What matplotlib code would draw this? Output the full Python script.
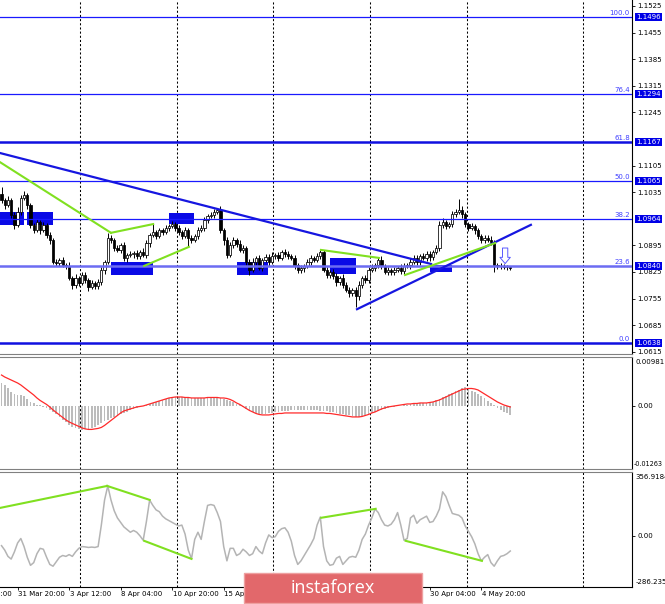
import numpy as np
import matplotlib
matplotlib.use('Agg')
import matplotlib.pyplot as plt
from matplotlib.patches import Rectangle

plt.rcParams['font.family'] = 'DejaVu Sans'

# EURUSD H4, bar 0 = first bar on screen
first_open = 1.1030
closes = [
    1.1014, 1.1001, 1.1014, 1.0975, 1.0949, 1.0983, 1.1020, 1.1028, 1.1001, 1.0949,
    1.0935, 1.0956, 1.0935, 1.0949, 1.0922, 1.0909, 1.0851, 1.0849, 1.0857, 1.0843,
    1.0841, 1.0809, 1.0791, 1.0809, 1.0796, 1.0817, 1.0804, 1.0786, 1.0796, 1.0788,
    1.0799, 1.0830, 1.0851, 1.0914, 1.0909, 1.0888, 1.0883, 1.0896, 1.0862, 1.0870,
    1.0872, 1.0875, 1.0867, 1.0878, 1.0870, 1.0901, 1.0922, 1.0930, 1.0920, 1.0935,
    1.0930, 1.0941, 1.0946, 1.0951, 1.0941, 1.0930, 1.0920, 1.0935, 1.0914, 1.0909,
    1.0920, 1.0935, 1.0941, 1.0962, 1.0972, 1.0975, 1.0983, 1.0988, 1.0935, 1.0909,
    1.0870, 1.0896, 1.0909, 1.0899, 1.0883, 1.0888, 1.0851, 1.0830, 1.0851, 1.0862,
    1.0836, 1.0857, 1.0864, 1.0851, 1.0867, 1.0870, 1.0862, 1.0878, 1.0872, 1.0867,
    1.0862, 1.0843, 1.0830, 1.0836, 1.0841, 1.0851, 1.0862, 1.0857, 1.0867, 1.0878,
    1.0830, 1.0817, 1.0825, 1.0814, 1.0799, 1.0809, 1.0791, 1.0778, 1.0770, 1.0778,
    1.0762, 1.0791, 1.0809, 1.0804, 1.0830, 1.0836, 1.0843, 1.0857, 1.0841, 1.0825,
    1.0830, 1.0825, 1.0830, 1.0836, 1.0827, 1.0841, 1.0843, 1.0851, 1.0862, 1.0851,
    1.0867, 1.0862, 1.0872, 1.0864, 1.0878, 1.0888, 1.0949, 1.0956, 1.0946, 1.0951,
    1.0977, 1.0983, 1.0988, 1.0977, 1.0951, 1.0941, 1.0946, 1.0935, 1.0920, 1.0909,
    1.0914, 1.0909, 1.0904, 1.0843, 1.0841, 1.0841, 1.0838, 1.0838, 1.0836]
# wick lengths in pips above / below the body
hi_wick = [
    19, 6, 10, 5, 8, 12, 7, 9, 5, 6,
    6, 9, 5, 8, 6, 7, 5, 8, 6, 7,
    5, 9, 6, 10, 6, 8, 7, 5, 9, 6,
    8, 7, 6, 14, 8, 6, 9, 5, 7, 6,
    8, 5, 7, 6, 9, 8, 6, 20, 5, 7,
    6, 8, 6, 9, 5, 7, 6, 8, 5, 7,
    6, 9, 7, 8, 6, 7, 9, 5, 10, 6,
    8, 9, 7, 6, 9, 8, 5, 7, 10, 6,
    8, 6, 9, 7, 10, 5, 8, 6, 7, 9,
    6, 8, 5, 7, 6, 9, 7, 6, 8, 5,
    5, 8, 6, 9, 7, 6, 10, 7, 8, 6,
    7, 9, 6, 8, 7, 10, 6, 8, 9, 5,
    7, 6, 8, 5, 9, 7, 6, 10, 8, 7,
    6, 9, 7, 8, 6, 8, 9, 12, 7, 6,
    9, 8, 29, 10, 7, 6, 8, 5, 7, 6,
    8, 7, 10, 6, 5, 7, 4, 5, 3]
lo_wick = [
    7, 9, 6, 8, 10, 6, 8, 5, 9, 7,
    7, 6, 9, 5, 8, 10, 6, 7, 9, 5,
    8, 6, 10, 7, 9, 6, 8, 10, 6, 9,
    7, 8, 10, 5, 7, 9, 6, 8, 7, 10,
    6, 9, 7, 8, 5, 7, 9, 6, 8, 6,
    7, 5, 8, 6, 9, 7, 8, 6, 22, 7,
    5, 8, 6, 9, 7, 5, 8, 6, 7, 14,
    8, 6, 9, 7, 5, 8, 9, 12, 6, 8,
    7, 9, 6, 10, 5, 7, 9, 6, 8, 7,
    6, 9, 8, 7, 10, 6, 8, 7, 6, 9,
    6, 9, 8, 7, 10, 9, 8, 6, 12, 9,
    28, 10, 8, 7, 9, 6, 8, 7, 9, 6,
    8, 7, 9, 6, 8, 7, 6, 9, 5, 8,
    7, 6, 8, 9, 7, 6, 8, 7, 9, 6,
    8, 7, 6, 9, 7, 8, 6, 9, 7, 8,
    7, 6, 8, 18, 7, 9, 6, 8, 5]

price_range = (1.06091, 1.15407)
# 1.1175 and 1.0965 sit under the level boxes and are not visible
price_ticks = [1.1525, 1.1455, 1.1385, 1.1315, 1.1245, 1.1105,
               1.1035, 1.0895, 1.0825, 1.0755, 1.0685, 1.0615]
fib_levels = [1.1496, 1.1294, 1.1167, 1.1065, 1.0964, 1.0840, 1.0638]
fib_names = ['100.0', '76.4', '61.8', '50.0', '38.2', '23.6', '0.0']

# lines as (bar0, value0, bar1, value1)
trend_blue = [(-0.47, 1.1138, 133.4, 1.0846), (110.4, 1.0727, 164.4, 1.0949)]
trend_green = [(-0.47, 1.1114, 34.0, 1.0928), (34.0, 1.0928, 47.1, 1.0951),
               (44.3, 1.0841, 58.2, 1.0891), (99.2, 1.0883, 117.2, 1.0862),
               (125.3, 1.0817, 153.3, 1.0901)]
# zones as (bar0, bar1, price_low, price_high)
zones = [(-0.47, 7.0, 1.0949, 1.0983), (7.9, 16.0, 1.0949, 1.0983),
         (34.0, 47.1, 1.0817, 1.0851), (52.0, 59.8, 1.0951, 1.0980),
         (73.1, 82.8, 1.0817, 1.0851), (102.0, 110.1, 1.0820, 1.0862),
         (133.1, 139.9, 1.0825, 1.0843)]
arrow_bar, arrow_top, arrow_tip = 156.4, 1.0888, 1.0847

# MACD, in units of 0.0001
macd_hist = [
    46, 42, 36, 28, 24, 22, 21, 19, 14, 8,
    5, 2, 1, -2, -5, -9, -13, -17, -23, -28,
    -33, -38, -42, -45, -47, -48, -47, -46, -44, -42,
    -39, -35, -31, -28, -25, -22, -20, -17, -14, -12,
    -9, -7, -5, -3, -1, 2, 4, 6, 8, 10,
    12, 14, 16, 17, 18, 18, 18, 17, 16, 16,
    15, 15, 15, 16, 16, 17, 17, 17, 15, 13,
    11, 9, 7, 4, 2, -2, -6, -10, -13, -15,
    -16, -16, -16, -15, -15, -13, -12, -11, -10, -10,
    -9, -9, -9, -8, -8, -8, -8, -8, -9, -10,
    -10, -11, -12, -13, -15, -16, -17, -18, -19, -20,
    -22, -22, -20, -18, -16, -14, -12, -10, -8, -6,
    -5, -3, -2, -1, 0, 1, 2, 3, 4, 4,
    5, 5, 6, 7, 8, 11, 14, 17, 20, 23,
    26, 29, 32, 35, 37, 34, 30, 27, 23, 19,
    15, 10, 6, 1, -5, -9, -12, -15, -18]
macd_signal = [
    62, 58, 55, 52, 49, 46, 42, 37, 32, 27,
    22, 16, 11, 7, 3, -2, -8, -13, -18, -23,
    -28, -32, -35, -38, -41, -44, -46, -47, -47, -46,
    -45, -43, -39, -34, -29, -24, -19, -14, -10, -8,
    -6, -4, -2, -1, 0, 2, 4, 6, 8, 10,
    12, 14, 16, 17, 18, 18, 18, 17, 17, 16,
    16, 16, 16, 16, 17, 17, 17, 17, 16, 16,
    15, 13, 10, 6, 3, -1, -5, -9, -12, -15,
    -17, -18, -18, -18, -17, -16, -15, -15, -14, -14,
    -14, -14, -14, -14, -14, -14, -14, -14, -14, -14,
    -14, -15, -15, -16, -17, -18, -19, -20, -21, -22,
    -22, -22, -21, -19, -17, -14, -12, -9, -6, -4,
    -2, -1, 0, 1, 2, 3, 4, 4, 5, 5,
    6, 6, 6, 7, 8, 10, 12, 15, 18, 21,
    24, 27, 30, 33, 34, 35, 35, 34, 32, 28,
    24, 20, 16, 12, 8, 5, 2, 0, -2]
macd_range = (-0.01263, 0.00981)

cci = [
    -55, -80, -115, -130, -90, -40, -15, -60, -120, -165,
    -150, -100, -70, -75, -120, -160, -170, -145, -120, -110,
    -115, -105, -115, -90, -70, -60, -62, -65, -63, -65,
    -60, 60, 200, 279, 200, 140, 100, 75, 50, 35,
    20, 30, 20, 0, -25, 80, 200, 170, 145, 135,
    110, 95, 85, 75, 65, 55, 60, 10, -80, -128,
    -20, 20, -20, 80, 170, 175, 170, 130, 80, -60,
    -140, -70, -70, -110, -100, -75, -90, -110, -100, -60,
    -85, -100, -40, 5, -10, -5, 25, 40, 45, 20,
    -30, -110, -160, -140, -110, -80, -50, -15, 60, 105,
    -60, -140, -165, -160, -125, -115, -160, -140, -120, -115,
    -120, -80, -20, 10, 60, 100, 150, 130, 90, 60,
    55, 65, 90, 130, 60, -25, -15, 100, 115, 70,
    90, 100, 110, 75, 80, 110, 150, 246, 220, 170,
    125, 120, 115, 100, 55, 25, -5, -45, -100, -140,
    -120, -105, -150, -170, -140, -115, -110, -100, -85]
cci_range = (-286.2358, 356.9184)
cci_green = [(-0.47, 156, 32.8, 279), (32.8, 279, 46.0, 201),
             (44.3, -28, 59.0, -129), (99.3, 101, 116.2, 151),
             (125.5, -28, 149.2, -140)]

grid_bars = [24.4, 54.5, 84.3, 114.4, 144.6, 180.6]
date_bars = [-11.4, 5, 21, 37, 53, 69, 133, 149]
date_labels = ['27 Mar 04:00', '31 Mar 20:00', '3 Apr 12:00', '8 Apr 04:00',
               '10 Apr 20:00', '15 Apr 12:00', '30 Apr 04:00', '4 May 20:00']
xlim = (-0.47, 195.8)

# candles
n = len(closes)
x = np.arange(n)
c = np.array(closes)
o = np.r_[first_open, c[:-1]]
top = np.maximum(o, c)
bot = np.minimum(o, c)
h = top + np.array(hi_wick) * 1e-4
l = bot - np.array(lo_wick) * 1e-4
up = c >= o

fig = plt.figure(figsize=(6.65, 6.04), dpi=100)
fig.patch.set_facecolor('white')
W = 632 / 665
ax = fig.add_axes([0, 1 - 354 / 604, W, 354 / 604])
ax2 = fig.add_axes([0, 1 - 469 / 604, W, 112 / 604], sharex=ax)
ax3 = fig.add_axes([0, 1 - 587 / 604, W, 115 / 604], sharex=ax)

lab = dict(xycoords=('axes fraction', 'data'), textcoords='offset points',
           annotation_clip=False, fontsize=5)

# --- price panel
for z in zones:
    ax.add_patch(Rectangle((z[0], z[2]), z[1] - z[0], z[3] - z[2],
                           fc='#0a0ae6', ec='none', zorder=1))
ax.vlines(x, l, h, color='black', lw=0.7, zorder=3)
ax.bar(x[up], (top - bot)[up] + 1e-5, bottom=bot[up], width=0.72,
       color='white', edgecolor='black', lw=0.55, zorder=4)
ax.bar(x[~up], (top - bot)[~up] + 1e-5, bottom=bot[~up], width=0.72,
       color='black', edgecolor='black', lw=0.55, zorder=4)

for p, name in zip(fib_levels, fib_names):
    if p in (1.1167, 1.0638):
        ax.axhline(p, color='#1010e0', lw=1.8, zorder=5)
    elif p == 1.0840:
        ax.axhline(p, color='#6c6cf2', lw=1.8, zorder=5)
    else:
        ax.axhline(p, color='#1a1aff', lw=0.9, zorder=5)
    ax.annotate(name, xy=(1, p), xytext=(-1.5, 0.6), ha='right', va='bottom',
                color='#4040ff', **lab)
    ax.annotate('%.4f' % p, xy=(1, p), xytext=(3.0, 0), ha='left', va='center',
                color='white', zorder=6,
                bbox=dict(boxstyle='square,pad=0.15', fc='#0000e6', ec='none'), **lab)

for b0, p0, b1, p1 in trend_blue:
    ax.plot([b0, b1], [p0, p1], color='#1616e0', lw=1.6, zorder=6)
for b0, p0, b1, p1 in trend_green:
    ax.plot([b0, b1], [p0, p1], color='#80e020', lw=1.5, zorder=6)

ax.annotate('', xy=(arrow_bar, arrow_tip), xytext=(arrow_bar, arrow_top),
            arrowprops=dict(arrowstyle='simple,head_length=0.45,head_width=0.75,tail_width=0.38',
                            fc='white', ec='#5a5aff', lw=0.7, shrinkA=0, shrinkB=0),
            zorder=7)

ax.set_ylim(*price_range)
ax.yaxis.tick_right()
ax.set_yticks(price_ticks, labels=['%.4f' % t for t in price_ticks])

# --- MACD panel
ax2.bar(x, np.array(macd_hist) * 1e-4, width=0.55, color='#bcbcbc', zorder=2)
ax2.plot(x, np.array(macd_signal) * 1e-4, color='#ff2a2a', lw=0.9, zorder=3)
ax2.set_ylim(*macd_range)
ax2.yaxis.tick_right()
ax2.set_yticks([0], labels=['0.00'])
ax2.annotate('%.5f' % macd_range[1], xy=(1, macd_range[1]), xytext=(2.2, -1.5),
             ha='left', va='top', **lab)
ax2.annotate('%.5f' % macd_range[0], xy=(1, macd_range[0]), xytext=(1.5, 1.5),
             ha='left', va='bottom', xycoords=('axes fraction', 'data'),
             textcoords='offset points', annotation_clip=False, fontsize=4.7)

# --- CCI panel
ax3.plot(x, cci, color='#b4b4b4', lw=1.1, zorder=2)
for b0, v0, b1, v1 in cci_green:
    ax3.plot([b0, b1], [v0, v1], color='#80e020', lw=1.5, zorder=3)
ax3.set_ylim(*cci_range)
ax3.yaxis.tick_right()
ax3.set_yticks([0], labels=['0.00'])
ax3.annotate('%.4f' % cci_range[1], xy=(1, cci_range[1]), xytext=(2.5, -1.5),
             ha='left', va='top', **lab)
ax3.annotate('%.4f' % cci_range[0], xy=(1, cci_range[0]), xytext=(2.5, 1.5),
             ha='left', va='bottom', **lab)

ax3.set_xlim(*xlim)
ax3.set_xticks([b for b in date_bars if b >= xlim[0]])
for b, t in zip(date_bars, date_labels):
    ax3.annotate(t, xy=(b, 0), xycoords=('data', 'axes fraction'), xytext=(0.5, -3),
                 textcoords='offset points', ha='left', va='top', fontsize=5,
                 annotation_clip=False)

for a in (ax, ax2, ax3):
    for g in grid_bars:
        a.axvline(g, color='black', lw=0.75, ls=(0, (2, 2)), zorder=0.5)
    a.set_facecolor('white')
    a.spines['left'].set_visible(False)
    a.spines['right'].set_color('black')
    a.spines['right'].set_linewidth(0.8)
    a.spines['top'].set_color('#808080')
    a.spines['bottom'].set_color('#808080')
    a.tick_params(axis='y', right=True, left=False, length=2.2, width=0.6,
                  pad=1.5, labelsize=5, direction='out')
ax.spines['top'].set_visible(False)
ax3.spines['bottom'].set_color('black')
ax.tick_params(axis='x', bottom=False, labelbottom=False)
ax2.tick_params(axis='x', bottom=False, labelbottom=False)
ax3.tick_params(axis='x', bottom=True, labelbottom=False, length=2.5, width=0.6)

# watermark
fig.add_artist(Rectangle((244 / 665, 1 / 604), 178 / 665, 30 / 604,
                         transform=fig.transFigure, fc='#e2686b', ec='#eea0a0',
                         lw=1, zorder=20))
fig.text(333 / 665, 1 - 588 / 604, 'instaforex', ha='center', va='center',
         color='white', fontsize=13, family='Open Sans', zorder=21)

fig.savefig('out.png', dpi=100)
